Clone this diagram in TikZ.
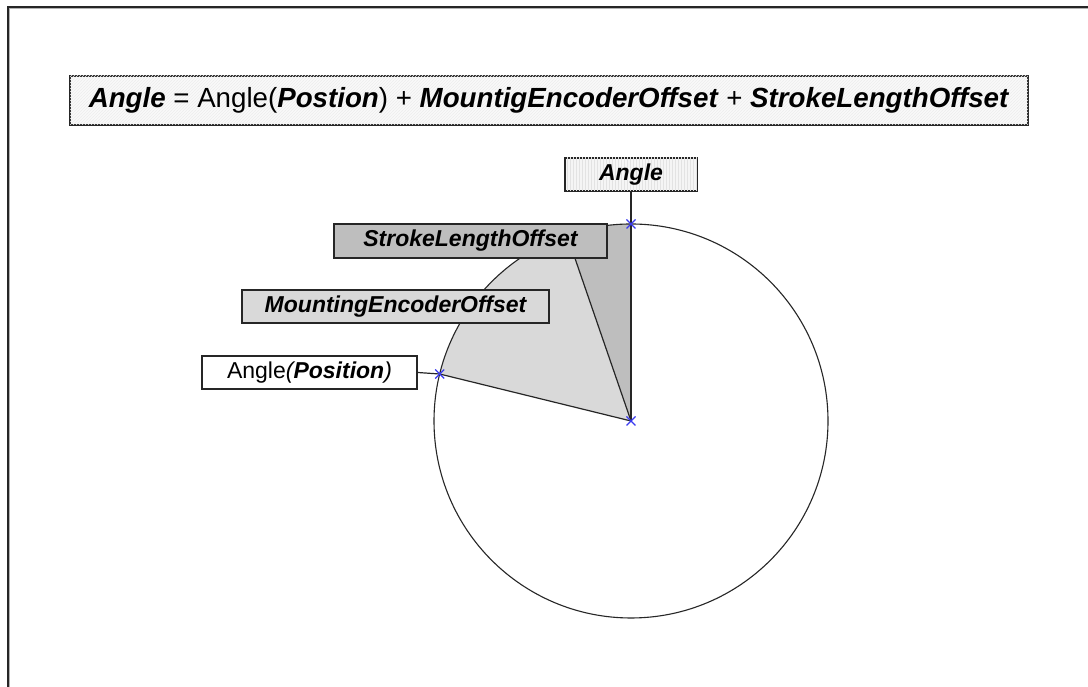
\documentclass[tikz,border=0pt]{standalone}
\usepackage{fontspec}
\setmainfont{Liberation Sans}
\usetikzlibrary{patterns,calc}
\definecolor{darkgr}{HTML}{BEBEBE}
\definecolor{lightgr}{HTML}{D9D9D9}
\definecolor{mark}{HTML}{3A3AF0}
\tikzset{
  lbl/.style={draw=black!85, line width=1.5pt, minimum height=33pt, inner sep=0pt, font=\fontsize{23}{26}\selectfont\bfseries\itshape},
  link/.style={draw=black!85, line width=1.2pt},
  xmark/.style={draw=mark, line width=1.2pt},
}
\newcommand{\xm}[1]{\draw[xmark] ($(#1)+(-4.5,-4.5)$) -- ($(#1)+(4.5,4.5)$) ($(#1)+(-4.5,4.5)$) -- ($(#1)+(4.5,-4.5)$);}
\begin{document}
\begin{tikzpicture}[x=1pt,y=1pt]
\useasboundingbox (0,0) rectangle (1088,687);
\fill[white] (0,0) rectangle (1088,687);
% frame
\draw[gray!60, line width=1pt] (9.8,0) -- (9.8,678.3) -- (1088,678.3);
\draw[black!85, line width=1.6pt] (8,0) -- (8,680) -- (1088,680);
% geometry
\coordinate (c) at (631,266);
\coordinate (top) at (631,463);
\coordinate (p) at ($(c)+(166.2:197)$);
\coordinate (s) at ($(c)+(109:200)$);
% sectors
\fill[lightgr] (c) -- (p) arc[start angle=166.2, end angle=109, radius=197] -- cycle;
\fill[darkgr] (c) -- ($(c)+(109:197)$) arc[start angle=109, end angle=90, radius=197] -- cycle;
\draw[black!85, line width=1.1pt] (c) circle[radius=197];
\draw[link] (c) -- (s);
% boxes
\node[lbl, minimum width=958pt, minimum height=49pt, fill=gray!5, postaction={pattern=north east lines, pattern color=gray!14}, font=\fontsize{27.7}{30}\selectfont] (title) at (549,586.5)
  {\textbf{\textit{Angle}} = Angle(\textbf{\textit{Postion}}) + \textbf{\textit{MountigEncoderOffset}} + \textbf{\textit{StrokeLengthOffset}}};
\node[lbl, minimum width=132pt, fill=gray!8, postaction={pattern=vertical lines, pattern color=gray!22}] (ang) at (631,512.5) {Angle};
\node[lbl, minimum width=273pt, minimum height=34pt, fill=darkgr] (slo) at (470.5,446) {StrokeLengthOffset};
\node[lbl, minimum width=307pt, fill=lightgr] (meo) at (395.5,380.5) {MountingEncoderOffset};
\node[lbl, minimum width=215pt, fill=white, font=\fontsize{23}{26}\selectfont] (ap) at (309.5,314.5) {Angle\textit{(\textbf{Position})}};
% connectors
\draw[link] (ang.south) -- (top) -- (c);
\draw[link] (ap.east) -- (p) -- (c);
\xm{top}
\xm{p}
\xm{c}
\end{tikzpicture}
\end{document}
